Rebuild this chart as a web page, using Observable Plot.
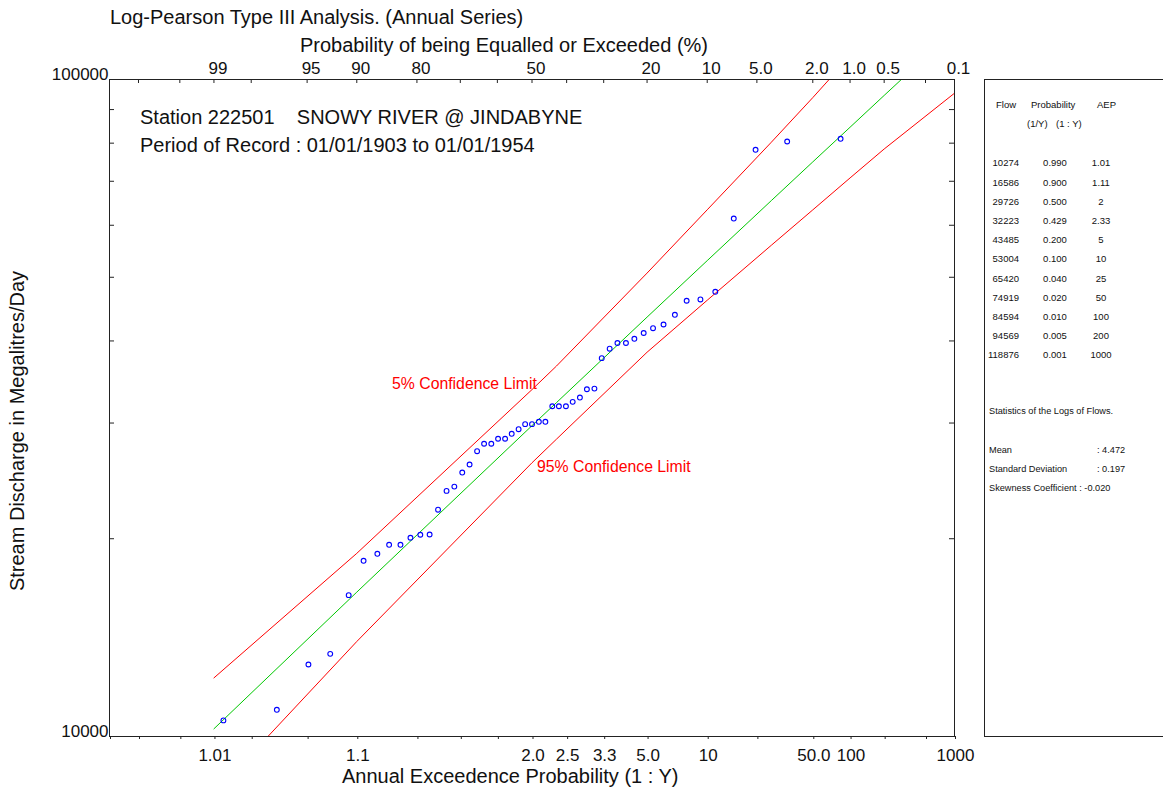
<!DOCTYPE html>
<html>
<head>
<meta charset="utf-8">
<script src="https://cdn.jsdelivr.net/npm/d3@7"></script>
<script src="https://cdn.jsdelivr.net/npm/@observablehq/plot@0.6"></script>
<style>
  body { margin: 0; background: #fff; }
  #chart { position: relative; width: 1163px; height: 790px; overflow: hidden; background: #fff; }
  #chart svg { position: absolute; left: 0; top: 0; }
  .t { position: absolute; white-space: pre; line-height: 1; color: #111;
       font-family: "Liberation Sans", Arial, Helvetica, sans-serif; }
</style>
</head>
<body>
<div id="chart"></div>
<script>
// ---- Annual maximum series, Snowy River @ Jindabyne (1903-1954) ----
// exceedance probability (%) of each ranked flood and its flow (ML/day)
const obsExceedPct = [1.2, 3.1, 5.1, 7.0, 9.0, 10.9, 12.9, 14.8, 16.8, 18.8,
  20.7, 22.7, 24.6, 26.6, 28.5, 30.5, 32.4, 34.4, 36.3, 38.3,
  40.2, 42.2, 44.1, 46.1, 48.0, 50.0, 52.0, 53.9, 55.9, 57.8,
  59.8, 61.7, 63.7, 65.6, 67.6, 69.5, 71.5, 73.4, 75.4, 77.3,
  79.3, 81.3, 83.2, 85.2, 87.1, 89.1, 91.0, 93.0, 94.9, 96.9, 98.8];
const obsFlow = [81230, 80470, 78160, 61430, 47520, 46260, 46050, 43840, 42370, 41830,
  41130, 40300, 39710, 39710, 38930, 37660, 33850, 33770, 32800, 32310,
  31820, 31820, 31820, 30130, 30130, 29880, 29880, 29360, 28890, 28390,
  28390, 27900, 27900, 27180, 25940, 25220, 24010, 23650, 22140, 20300,
  20280, 20070, 19580, 19580, 18970, 18510, 16410, 13360, 12870, 10980, 10580];

// fitted Log-Pearson III quantiles (table) and confidence limits
const quantFlow = [10274, 16586, 29726, 32223, 43485, 53004, 65420, 74919, 84594, 94569, 118876];
const quantProb = [0.990, 0.900, 0.500, 0.429, 0.200, 0.100, 0.040, 0.020, 0.010, 0.005, 0.001];
const quantAEP = ["1.01", "1.11", "2", "2.33", "5", "10", "25", "50", "100", "200", "1000"];
const upper5Flow = [12280, 19000, 33730, 36630, 50740, 63340, 80270, 93850, 108470, 123900, 162600];
const lower95Flow = [8170, 13950, 26100, 28350, 38450, 46130, 55940, 63320, 70820, 78380, 95310];

// statistics of the logs of flows
const statNames = ["Mean", "Standard Deviation"];
const statValues = ["4.472", "0.197"];
const skewText = "Skewness Coefficient : -0.020";

// probability axis: limits, tick marks and labels
const axisLimitsPct = [99.9, 0.1];
const tickPct = [99.8, 99.5, 99, 98, 95, 90, 80, 70, 60, 50, 40, 30, 20, 10, 5, 2, 1, 0.5, 0.2];
const topLabelPct = [99, 95, 90, 80, 50, 20, 10, 5, 2, 1, 0.5, 0.1];
const topLabelText = ["99", "95", "90", "80", "50", "20", "10", "5.0", "2.0", "1.0", "0.5", "0.1"];
const bottomLabelPct = [99, 90, 50, 40, 30, 20, 10, 2, 1, 0.1];
const bottomLabelText = ["1.01", "1.1", "2.0", "2.5", "3.3", "5.0", "10", "50.0", "100", "1000"];
const yLabelTicks = [10000, 100000];
const yMinorTicks = [20000, 30000, 40000, 50000, 60000, 70000, 80000, 90000];

const FONT = '"Liberation Sans", Arial, Helvetica, sans-serif';

// inverse standard normal CDF (Acklam's rational approximation)
function qnorm(p) {
  const a = [-3.969683028665376e+01, 2.209460984245205e+02, -2.759285104469687e+02, 1.383577518672690e+02, -3.066479806614716e+01, 2.506628277459239e+00];
  const b = [-5.447609879822406e+01, 1.615858368580409e+02, -1.556989798598866e+02, 6.680131188771972e+01, -1.328068155288572e+01];
  const c = [-7.784894002430293e-03, -3.223964580411365e-01, -2.400758277161838e+00, -2.549671008867266e+00, 4.374664141464968e+00, 2.938163982698783e+00];
  const d = [7.784695709041462e-03, 3.224671290700398e-01, 2.445134137142996e+00, 3.754408661907416e+00];
  const plow = 0.02425, phigh = 1 - plow;
  let q, r;
  if (p < plow) {
    q = Math.sqrt(-2 * Math.log(p));
    return (((((c[0]*q+c[1])*q+c[2])*q+c[3])*q+c[4])*q+c[5]) / ((((d[0]*q+d[1])*q+d[2])*q+d[3])*q+1);
  }
  if (p > phigh) {
    q = Math.sqrt(-2 * Math.log(1 - p));
    return -(((((c[0]*q+c[1])*q+c[2])*q+c[3])*q+c[4])*q+c[5]) / ((((d[0]*q+d[1])*q+d[2])*q+d[3])*q+1);
  }
  q = p - 0.5; r = q * q;
  return (((((a[0]*r+a[1])*r+a[2])*r+a[3])*r+a[4])*r+a[5])*q / (((((b[0]*r+b[1])*r+b[2])*r+b[3])*r+b[4])*r+1);
}
// exceedance percentage -> standard normal variate (probability paper)
const zOf = pct => qnorm(1 - pct / 100);

const points = obsExceedPct.map((p, i) => ({z: zOf(p), flow: obsFlow[i]}));
const quant = quantProb.map((p, i) => ({z: zOf(p * 100), fit: quantFlow[i], up: upper5Flow[i], lo: lower95Flow[i]}));

const topLabels = new Map(topLabelPct.map((p, i) => [zOf(p), topLabelText[i]]));
const bottomLabels = new Map(bottomLabelPct.map((p, i) => [zOf(p), bottomLabelText[i]]));
const bottomTicks = [axisLimitsPct[0], ...tickPct, axisLimitsPct[1]].map(zOf);

const W = 1163, H = 790, ML = 109, MR = 209, MT = 79, MB = 54;
const frameW = W - ML - MR, frameH = H - MT - MB;

const plot = Plot.plot({
  width: W, height: H,
  marginLeft: ML, marginRight: MR, marginTop: MT, marginBottom: MB,
  style: {fontFamily: FONT, fontSize: "17px", color: "#111", background: "transparent", overflow: "visible"},
  x: {type: "linear", domain: axisLimitsPct.map(zOf), label: null},
  y: {type: "log", domain: [10000, 100000], label: null},
  marks: [
    // probability ticks along the top edge, pointing into the frame
    Plot.tickX(tickPct.map(zOf), {x: d => d, stroke: "#222", insetBottom: frameH - 4}),
    Plot.axisX({anchor: "top", ticks: topLabelPct.map(zOf), tickSize: 0, tickPadding: 6, dx: 4,
      tickFormat: d => topLabels.get(d) ?? "", label: null, fontSize: 17}),
    // AEP axis along the bottom
    Plot.axisX({anchor: "bottom", ticks: bottomTicks, tickSize: 3, tickPadding: 9, dx: 1,
      tickFormat: d => bottomLabels.get(d) ?? "", label: null, fontSize: 17, stroke: "#222"}),
    Plot.axisY({anchor: "left", ticks: yLabelTicks, tickSize: 0, tickPadding: 1, dy: -5,
      tickFormat: d => String(d), label: null, fontSize: 17}),
    // minor flow ticks on both side edges
    Plot.tickY(yMinorTicks, {y: d => d, stroke: "#222", insetLeft: frameW - 5}),
    Plot.tickY(yMinorTicks, {y: d => d, stroke: "#222", insetRight: frameW - 5}),
    // confidence limits and fitted curve
    Plot.line(quant, {x: "z", y: "up", stroke: "#ff0000", strokeWidth: 1, clip: true}),
    Plot.line(quant, {x: "z", y: "lo", stroke: "#ff0000", strokeWidth: 1, clip: true}),
    Plot.line(quant, {x: "z", y: "fit", stroke: "#00c800", strokeWidth: 1, clip: true}),
    // observed annual maxima
    Plot.dot(points, {x: "z", y: "flow", r: 2.4, stroke: "#0000ff", fill: "none", strokeWidth: 1.1}),
    Plot.frame({stroke: "#222"})
  ]
});

const chart = document.getElementById("chart");
chart.appendChild(plot);

// positioned text helper: (x, vertical centre), anchor start|middle|end
function label(text, x, yc, size, opts = {}) {
  const el = document.createElement("div");
  el.className = "t";
  el.textContent = text;
  el.style.fontSize = size + "px";
  el.style.left = x + "px";
  el.style.top = (yc - 0.49 * size) + "px";
  if (opts.color) el.style.color = opts.color;
  const tx = opts.anchor === "end" ? "-100%" : opts.anchor === "middle" ? "-50%" : "0";
  el.style.transform = `translateX(${tx})`;
  chart.appendChild(el);
  return el;
}

label("Log-Pearson Type III Analysis. (Annual Series)", 110, 17, 20);
label("Probability of being Equalled or Exceeded (%)", 300, 45, 20);
label("Annual Exceedence Probability (1 : Y)", 342, 776, 20);
label("Station 222501    SNOWY RIVER @ JINDABYNE", 140, 117, 20);
label("Period of Record : 01/01/1903 to 01/01/1954", 140, 145, 20);
label("5% Confidence Limit", 392, 384, 15.8, {color: "#ff0000"});
label("95% Confidence Limit", 537, 467, 15.8, {color: "#ff0000"});

// rotated flow axis title
const yt = document.createElement("div");
yt.className = "t";
yt.textContent = "Stream Discharge in Megalitres/Day";
yt.style.fontSize = "20px";
yt.style.left = "17px";
yt.style.top = "431px";
yt.style.transform = "translate(-50%, -50%) rotate(-90deg)";
chart.appendChild(yt);

// side panel with quantile table and statistics
const panel = document.createElement("div");
panel.style.cssText = `position:absolute;left:984px;top:${MT}px;width:200px;height:${frameH + 1}px;border:1px solid #222;box-sizing:border-box;`;
chart.appendChild(panel);

const fs = 9.5;
label("Flow", 996, 105, fs);
label("Probability", 1031, 105, fs);
label("AEP", 1097, 105, fs);
label("(1/Y)", 1027, 124, fs);
label("(1 : Y)", 1056, 124, fs);
quantFlow.forEach((f, i) => {
  const yc = 163 + i * 19.2;
  label(String(f), 1019, yc, fs, {anchor: "end"});
  label(quantProb[i].toFixed(3), 1055, yc, fs, {anchor: "middle"});
  label(quantAEP[i], 1101, yc, fs, {anchor: "middle"});
});
label("Statistics of the Logs of Flows.", 989, 412, 9.2);
statNames.forEach((n, i) => {
  label(n, 989, 451 + i * 19, 9.2);
  label(": " + statValues[i], 1097, 451 + i * 19, 9.2);
});
label(skewText, 989, 489, 9.2);
</script>
</body>
</html>
